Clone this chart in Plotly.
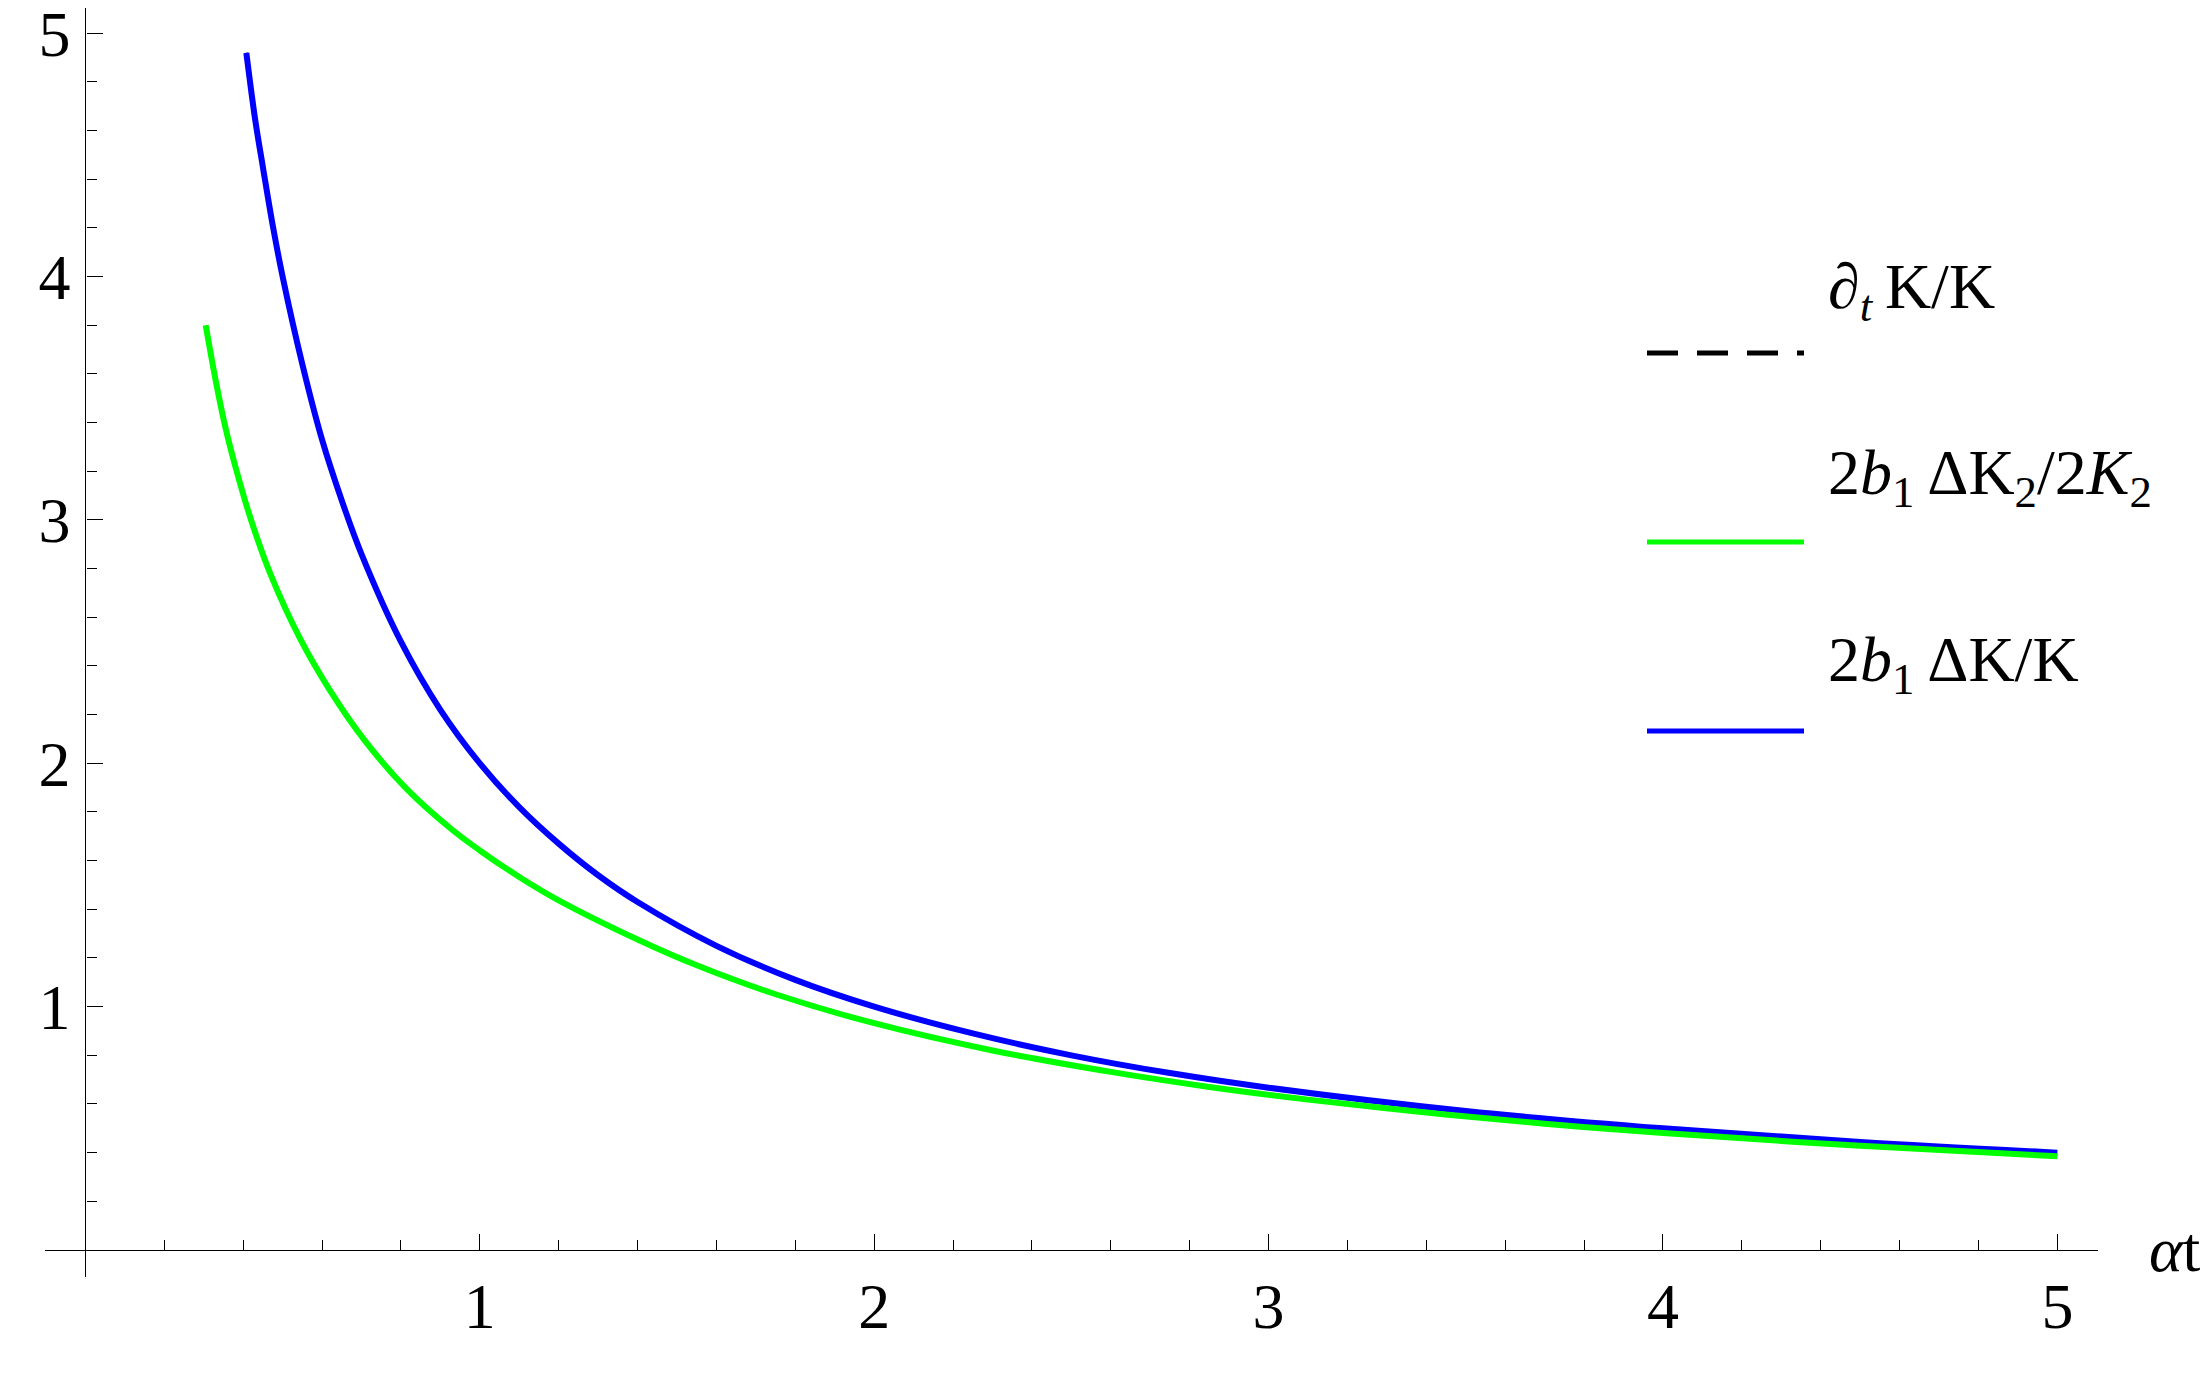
import plotly.graph_objects as go

# ---------------- data ----------------
x_blue = [0.408, 0.43, 0.45, 0.475, 0.5, 0.55, 0.6, 0.65, 0.7, 0.8, 0.9, 1.0, 1.1, 1.2, 1.3, 1.4,
          1.6, 1.8, 2.0, 2.25, 2.5, 2.75, 3.0, 3.5, 4.0, 4.5, 5.0]
y_blue = [4.92, 4.65, 4.45, 4.21, 4.00, 3.64, 3.33, 3.08, 2.86, 2.50, 2.22, 2.00, 1.82, 1.67, 1.54, 1.43,
          1.25, 1.11, 1.00, 0.89, 0.80, 0.727, 0.667, 0.571, 0.50, 0.444, 0.40]

x_green = [0.305, 0.33, 0.355, 0.38, 0.42, 0.47, 0.545, 0.62, 0.71, 0.815, 0.93, 1.0, 1.1, 1.2,
           1.4, 1.55, 1.75, 2.0, 2.3, 2.6, 2.85, 3.1, 3.4, 3.7, 4.0, 4.5, 5.0]
y_green = [3.80, 3.576, 3.380, 3.221, 3.000, 2.774, 2.510, 2.300, 2.090, 1.894, 1.727, 1.642, 1.533, 1.437,
           1.276, 1.170, 1.051, 0.932, 0.820, 0.732, 0.670, 0.618, 0.565, 0.519, 0.481, 0.428, 0.385]

# dashed black curve coincides with the blue one (hidden beneath it)
x_dash = x_blue
y_dash = y_blue

series_names = ["∂<sub><i>t</i></sub>\u2009K/K",
                "2<i>b</i><sub>1</sub>\u2009ΔK<sub>2</sub>/2<i>K</i><sub>2</sub>",
                "2<i>b</i><sub>1</sub>\u2009ΔK/K"]
series_colors = ["#000000", "#00FF00", "#0000FF"]

x_major = [1, 2, 3, 4, 5]
y_major = [1, 2, 3, 4, 5]
x_minor = [0.2, 0.4, 0.6, 0.8, 1.2, 1.4, 1.6, 1.8, 2.2, 2.4, 2.6, 2.8, 3.2, 3.4, 3.6, 3.8,
           4.2, 4.4, 4.6, 4.8]
y_minor = [0.2, 0.4, 0.6, 0.8, 1.2, 1.4, 1.6, 1.8, 2.2, 2.4, 2.6, 2.8, 3.2, 3.4, 3.6, 3.8,
           4.2, 4.4, 4.6, 4.8]
x_title = "<i>α</i>t"

# ---------------- layout geometry ----------------
W, H = 2211, 1385
OFF = 8                      # default page (body) margin of the written html
L, R, T, B = 37, 121, 0, 116
XR = [-0.1025, 5.103]
YR = [-0.111, 5.104]
FONT = "Liberation Serif"

def px_x(px):
    return (px - OFF - L) / (W - L - R)

def px_y(py):
    return (H - B - (py - OFF)) / (H - B - T)

fig = go.Figure()
fig.add_trace(go.Scatter(x=x_dash, y=y_dash, mode="lines",
                         line=dict(color=series_colors[0], width=3, dash="dash", shape="spline"),
                         showlegend=False, hoverinfo="skip"))
fig.add_trace(go.Scatter(x=x_blue, y=y_blue, mode="lines",
                         line=dict(color=series_colors[2], width=6, shape="spline"), showlegend=False))
fig.add_trace(go.Scatter(x=x_green, y=y_green, mode="lines",
                         line=dict(color=series_colors[1], width=6, shape="spline"), showlegend=False))

xpos = (0 - YR[0]) / (YR[1] - YR[0])
ypos = (0 - XR[0]) / (XR[1] - XR[0])

axis_common = dict(showgrid=False, zeroline=False, showline=True, linecolor="black", linewidth=1.4,
                   ticks="inside", ticklen=16, tickwidth=1.3, tickcolor="black", automargin=False,
                   ticklabeloverflow="allow",
                   tickfont=dict(family=FONT, size=64, color="black"), tickmode="array")

fig.update_layout(
    width=W, height=H,
    margin=dict(l=L, r=R, t=T, b=B, autoexpand=False),
    paper_bgcolor="white", plot_bgcolor="white",
    showlegend=False,
    xaxis=dict(range=XR, anchor="free", position=xpos, side="bottom", tickvals=x_major,
               ticktext=[str(v) for v in x_major],
               minor=dict(tickmode="array", tickvals=x_minor, ticks="inside", ticklen=10, tickwidth=1.3,
                          tickcolor="black", showgrid=False),
               ticklabelstandoff=0, **axis_common),
    yaxis=dict(range=YR, anchor="free", position=ypos, side="left", tickvals=y_major,
               ticktext=[str(v) for v in y_major],
               minor=dict(tickmode="array", tickvals=y_minor, ticks="inside", ticklen=10, tickwidth=1.3,
                          tickcolor="black", showgrid=False),
               ticklabelstandoff=2, **axis_common),
)

# axis label
fig.add_annotation(xref="paper", yref="paper", x=px_x(2147), y=px_y(1249), text=x_title,
                   showarrow=False, xanchor="left", yanchor="middle",
                   font=dict(family=FONT, size=64, color="black"))

# legend (Mathematica style: line sample with label above-right)
leg_line_y = [353, 542, 731]
leg_text_base = [309, 495, 682]
for i in range(3):
    fig.add_shape(type="line", xref="paper", yref="paper",
                  x0=px_x(1647), x1=px_x(1804), y0=px_y(leg_line_y[i]), y1=px_y(leg_line_y[i]),
                  line=dict(color=series_colors[i], width=5, dash="31px,19px" if i == 0 else "solid"))
    fig.add_annotation(xref="paper", yref="paper", x=px_x(1826), y=px_y(leg_text_base[i] + 24),
                       text=series_names[i], showarrow=False, xanchor="left", yanchor="bottom",
                       font=dict(family=FONT, size=64, color="black"))

fig.write_html("out.html")
